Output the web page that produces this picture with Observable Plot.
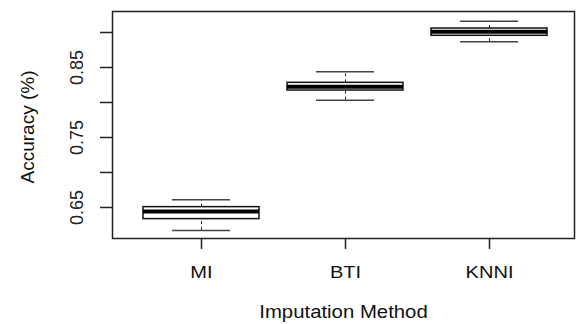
<!DOCTYPE html>
<html>
<head>
<meta charset="utf-8">
<script src="https://cdn.jsdelivr.net/npm/d3@7"></script>
<script src="https://cdn.jsdelivr.net/npm/@observablehq/plot@0.6"></script>
<style>
  html, body { margin: 0; padding: 0; background: #fff; }
  #chart { width: 577px; height: 324px; }
</style>
</head>
<body>
<div id="chart"></div>
<script>
const categories = ["MI", "BTI", "KNNI"];
const whiskerLow  = [0.617,  0.8033, 0.8867];
const q1          = [0.6334, 0.8171, 0.8953];
const median      = [0.6443, 0.8224, 0.9010];
const q3          = [0.6505, 0.8281, 0.9057];
const whiskerHigh = [0.661,  0.8438, 0.9161];
const yTicks      = [0.65, 0.70, 0.75, 0.80, 0.85, 0.90];
const yTickLabels = ["0.65", "", "0.75", "", "0.85", ""];
const xTitle = "Imputation Method";
const yTitle = "Accuracy (%)";

const data = categories.map((c, i) => ({
  cat: c, lo: whiskerLow[i], q1: q1[i], med: median[i], q3: q3[i], hi: whiskerHigh[i]
}));
const yLabelData = yTicks.map((v, i) => ({v, t: yTickLabels[i]})).filter(d => d.t);

const font = "'Liberation Sans', Arial, Helvetica, sans-serif";

const svg = Plot.plot({
  width: 577,
  height: 324,
  marginLeft: 112,
  marginRight: 3,
  marginTop: 11,
  marginBottom: 86,
  style: {fontFamily: font, fontSize: "17px", color: "#111", background: "#fff"},
  x: {domain: categories, paddingInner: 0.194, paddingOuter: 0.201, align: 0.535, label: null},
  y: {domain: [0.6057, 0.93], label: null},
  marks: [
    Plot.ruleX(data, {x: "cat", y1: "q3", y2: "hi", stroke: "#222", strokeWidth: 1, strokeDasharray: "3,3"}),
    Plot.ruleX(data, {x: "cat", y1: "lo", y2: "q1", stroke: "#222", strokeWidth: 1, strokeDasharray: "3,3"}),
    Plot.tickY(data, {x: "cat", y: "hi", insetLeft: 29, insetRight: 29, stroke: "#444", strokeWidth: 1.5}),
    Plot.tickY(data, {x: "cat", y: "lo", insetLeft: 29, insetRight: 29, stroke: "#444", strokeWidth: 1.5}),
    Plot.barY(data, {x: "cat", y1: "q1", y2: "q3", fill: "white", stroke: "#111", strokeWidth: 1.5}),
    Plot.tickY(data, {x: "cat", y: "med", stroke: "#000", strokeWidth: 4}),
    Plot.frame({stroke: "#222", strokeWidth: 1.5}),
    Plot.axisY({ticks: yTicks, tickSize: 12, tickFormat: () => "", stroke: "#222", strokeWidth: 1.5}),
    Plot.text(yLabelData, {y: "v", text: "t", frameAnchor: "left", dx: -35, rotate: -90,
      textAnchor: "middle", lineAnchor: "middle", fontSize: 18, fill: "#222"}),
    Plot.text([yTitle], {text: d => d, frameAnchor: "left", dx: -85, dy: 2, rotate: -90,
      textAnchor: "middle", lineAnchor: "middle", fontSize: 19, fill: "#111"}),
    Plot.axisX({tickSize: 11, tickPadding: 16, fontSize: 17, stroke: "#222", strokeWidth: 1.5, fill: "#111", label: null}),
    Plot.text([xTitle], {text: d => d, frameAnchor: "bottom", dy: 74, textAnchor: "middle", lineAnchor: "middle",
      fontSize: 18, fill: "#111"})
  ]
});

document.getElementById("chart").appendChild(svg);

// horizontal stretch of horizontal texts, as in the reference
svg.querySelectorAll("text").forEach(el => {
  const t = el.textContent;
  let s = 0;
  if (categories.includes(t)) s = 1.18;
  else if (t === xTitle) s = 1.13;
  if (s) {
    const len = el.getComputedTextLength();
    el.setAttribute("textLength", (len * s).toFixed(1));
    el.setAttribute("lengthAdjust", "spacingAndGlyphs");
  }
});
</script>
</body>
</html>
